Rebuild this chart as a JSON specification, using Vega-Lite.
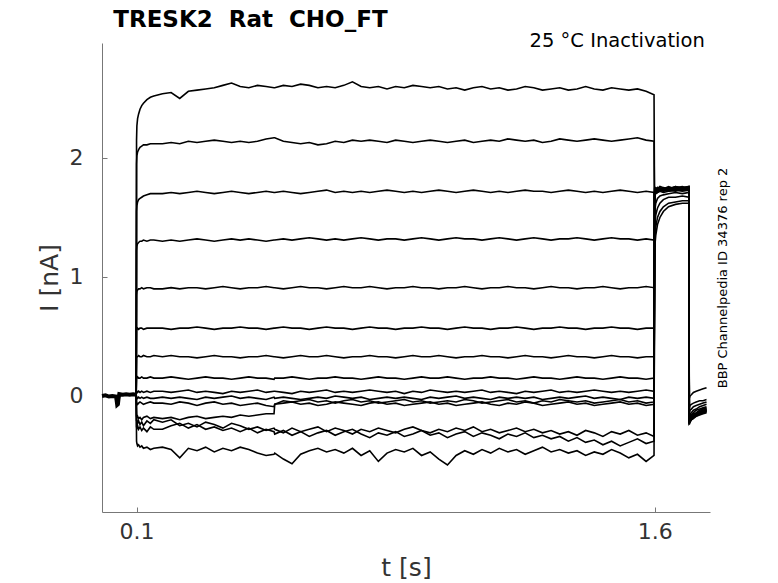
{
  "$schema": "https://vega.github.io/schema/vega-lite/v6.json",
  "description": "TRESK2 Rat CHO_FT inactivation current traces",
  "autosize": {"type": "none"},
  "padding": {"left": 102, "top": 43, "right": 68, "bottom": 71},
  "width": 608,
  "height": 469,
  "background": "white",
  "config": {
    "view": {"stroke": null},
    "axis": {
      "grid": false,
      "domainColor": "#777777", "tickColor": "#777777",
      "labelFont": "DejaVu Sans", "labelColor": "#333333",
      "titleFont": "DejaVu Sans", "titleColor": "#333333", "titleFontWeight": "normal"
    }
  },
  "layer": [
    {
      "data": {"values": [
        {"t": 0, "I": 0.0}, {"t": 0.01, "I": 0.005}, {"t": 0.02, "I": -0.005}, {"t": 0.03, "I": 0.0},
        {"t": 0.04, "I": -0.005}, {"t": 0.042, "I": -0.03}, {"t": 0.044, "I": -0.075}, {"t": 0.046, "I": -0.07},
        {"t": 0.048, "I": -0.02}, {"t": 0.05, "I": 0.015}, {"t": 0.06, "I": 0.01}, {"t": 0.07, "I": 0.015},
        {"t": 0.08, "I": 0.01}, {"t": 0.09, "I": 0.015}, {"t": 0.099, "I": 0.01}
      ]},
      "mark": {"type": "line", "color": "black", "strokeWidth": 4},
      "encoding": {
        "x": {"field": "t", "type": "quantitative", "scale": {"domain": [0, 1.76], "nice": false, "zero": false},
          "axis": {"values": [0.1, 1.6], "format": ".1f", "tickSize": -5, "labelFontSize": 22, "labelPadding": 14, "labelFlush": false,
            "title": "t [s]", "titleFontSize": 25, "titlePadding": 13}},
        "y": {"field": "I", "type": "quantitative", "scale": {"domain": [-0.975, 2.966], "nice": false, "zero": false},
          "axis": {"values": [0, 1, 2], "tickSize": -5, "labelFontSize": 22, "labelPadding": 24,
            "title": "I [nA]", "titleFontSize": 25, "titlePadding": 7}}
      }
    },
    {
      "data": {"values": [
        {"t": 0.099, "a": 0.01, "b": 0.01, "c": 0.01, "d": 0.01, "e": 0.01, "f": 0.01, "g": 0.01, "h": 0.01, "i": 0.01, "j": 0.01, "k": 0.01, "l": 0.01, "m": 0.01, "n": 0.01, "o": 0.01},
        {"t": 0.1, "a": 2.15, "b": 1.95, "c": 1.55, "d": 1.22, "e": 0.85, "f": 0.55, "g": 0.33, "h": 0.15, "i": 0.04, "j": -0.01, "k": -0.06, "l": -0.17, "m": -0.21, "n": -0.26, "o": -0.38},
        {"t": 0.101, "a": 2.27, "b": 2.02, "c": 1.60, "d": 1.26, "e": 0.88, "f": 0.56, "g": 0.33, "h": 0.15, "i": 0.04, "j": -0.01, "k": -0.06, "l": -0.18, "m": -0.20, "n": -0.27, "o": -0.40},
        {"t": 0.103, "a": 2.33, "b": 2.05, "c": 1.63, "d": 1.28, "e": 0.89, "f": 0.57, "g": 0.33, "h": 0.16, "i": 0.03, "j": -0.02, "k": -0.07, "l": -0.17, "m": -0.23, "n": -0.25, "o": -0.42},
        {"t": 0.106, "a": 2.37, "b": 2.07, "c": 1.65, "d": 1.29, "e": 0.90, "f": 0.56, "g": 0.34, "h": 0.15, "i": 0.04, "j": -0.01, "k": -0.06, "l": -0.19, "m": -0.21, "n": -0.28, "o": -0.41},
        {"t": 0.11, "a": 2.41, "b": 2.09, "c": 1.66, "d": 1.30, "e": 0.90, "f": 0.57, "g": 0.33, "h": 0.15, "i": 0.03, "j": -0.02, "k": -0.05, "l": -0.18, "m": -0.24, "n": -0.26, "o": -0.43},
        {"t": 0.115, "a": 2.44, "b": 2.10, "c": 1.67, "d": 1.30, "e": 0.91, "f": 0.57, "g": 0.33, "h": 0.16, "i": 0.04, "j": -0.01, "k": -0.06, "l": -0.20, "m": -0.22, "n": -0.29, "o": -0.42},
        {"t": 0.12, "a": 2.46, "b": 2.11, "c": 1.68, "d": 1.31, "e": 0.90, "f": 0.56, "g": 0.34, "h": 0.15, "i": 0.03, "j": -0.02, "k": -0.07, "l": -0.18, "m": -0.25, "n": -0.27, "o": -0.44},
        {"t": 0.13, "a": 2.49, "b": 2.11, "c": 1.69, "d": 1.30, "e": 0.91, "f": 0.57, "g": 0.33, "h": 0.15, "i": 0.04, "j": -0.01, "k": -0.06, "l": -0.17, "m": -0.21, "n": -0.30, "o": -0.43},
        {"t": 0.14, "a": 2.51, "b": 2.12, "c": 1.70, "d": 1.31, "e": 0.91, "f": 0.57, "g": 0.33, "h": 0.16, "i": 0.03, "j": -0.02, "k": -0.05, "l": -0.19, "m": -0.23, "n": -0.26, "o": -0.45},
        {"t": 0.15, "a": 2.52, "b": 2.12, "c": 1.70, "d": 1.31, "e": 0.90, "f": 0.57, "g": 0.34, "h": 0.15, "i": 0.04, "j": -0.02, "k": -0.06, "l": -0.18, "m": -0.20, "n": -0.28, "o": -0.44},
        {"t": 0.175, "a": 2.54, "b": 2.12, "c": 1.70, "d": 1.30, "e": 0.90, "f": 0.57, "g": 0.33, "h": 0.15, "i": 0.04, "j": -0.01, "k": -0.06, "l": -0.19, "m": -0.22, "n": -0.28, "o": -0.43},
        {"t": 0.2, "a": 2.55, "b": 2.13, "c": 1.71, "d": 1.31, "e": 0.91, "f": 0.56, "g": 0.34, "h": 0.16, "i": 0.03, "j": -0.02, "k": -0.07, "l": -0.18, "m": -0.20, "n": -0.25, "o": -0.45},
        {"t": 0.225, "a": 2.50, "b": 2.12, "c": 1.70, "d": 1.30, "e": 0.90, "f": 0.57, "g": 0.33, "h": 0.15, "i": 0.04, "j": -0.01, "k": -0.05, "l": -0.20, "m": -0.25, "n": -0.23, "o": -0.52},
        {"t": 0.25, "a": 2.56, "b": 2.14, "c": 1.71, "d": 1.31, "e": 0.91, "f": 0.57, "g": 0.33, "h": 0.14, "i": 0.05, "j": -0.02, "k": -0.06, "l": -0.18, "m": -0.23, "n": -0.27, "o": -0.44},
        {"t": 0.275, "a": 2.57, "b": 2.13, "c": 1.72, "d": 1.32, "e": 0.91, "f": 0.58, "g": 0.32, "h": 0.15, "i": 0.03, "j": -0.03, "k": -0.08, "l": -0.17, "m": -0.26, "n": -0.24, "o": -0.46},
        {"t": 0.3, "a": 2.58, "b": 2.14, "c": 1.71, "d": 1.31, "e": 0.90, "f": 0.57, "g": 0.33, "h": 0.16, "i": 0.04, "j": -0.01, "k": -0.06, "l": -0.19, "m": -0.22, "n": -0.28, "o": -0.43},
        {"t": 0.325, "a": 2.59, "b": 2.15, "c": 1.70, "d": 1.30, "e": 0.91, "f": 0.56, "g": 0.34, "h": 0.15, "i": 0.03, "j": -0.02, "k": -0.05, "l": -0.18, "m": -0.24, "n": -0.26, "o": -0.47},
        {"t": 0.35, "a": 2.61, "b": 2.14, "c": 1.71, "d": 1.31, "e": 0.92, "f": 0.57, "g": 0.33, "h": 0.15, "i": 0.02, "j": -0.01, "k": -0.07, "l": -0.17, "m": -0.27, "n": -0.29, "o": -0.44},
        {"t": 0.375, "a": 2.63, "b": 2.13, "c": 1.72, "d": 1.32, "e": 0.91, "f": 0.57, "g": 0.33, "h": 0.14, "i": 0.04, "j": 0.00, "k": -0.06, "l": -0.18, "m": -0.23, "n": -0.27, "o": -0.46},
        {"t": 0.4, "a": 2.60, "b": 2.14, "c": 1.71, "d": 1.31, "e": 0.90, "f": 0.58, "g": 0.32, "h": 0.15, "i": 0.03, "j": -0.02, "k": -0.08, "l": -0.16, "m": -0.25, "n": -0.30, "o": -0.43},
        {"t": 0.425, "a": 2.59, "b": 2.13, "c": 1.70, "d": 1.32, "e": 0.91, "f": 0.57, "g": 0.33, "h": 0.16, "i": 0.04, "j": -0.01, "k": -0.07, "l": -0.17, "m": -0.28, "n": -0.27, "o": -0.45},
        {"t": 0.45, "a": 2.61, "b": 2.14, "c": 1.71, "d": 1.31, "e": 0.91, "f": 0.57, "g": 0.33, "h": 0.15, "i": 0.05, "j": -0.02, "k": -0.06, "l": -0.16, "m": -0.26, "n": -0.31, "o": -0.48},
        {"t": 0.475, "a": 2.60, "b": 2.16, "c": 1.72, "d": 1.30, "e": 0.92, "f": 0.56, "g": 0.34, "h": 0.15, "i": 0.03, "j": -0.03, "k": -0.08, "l": -0.15, "m": -0.29, "n": -0.28, "o": -0.50},
        {"t": 0.498, "a": 2.59, "b": 2.17, "c": 1.71, "d": 1.31, "e": 0.91, "f": 0.57, "g": 0.33, "h": 0.14, "i": 0.04, "j": -0.01, "k": -0.09, "l": -0.15, "m": -0.27, "n": -0.30, "o": -0.49},
        {"t": 0.5, "a": 2.59, "b": 2.17, "c": 1.71, "d": 1.31, "e": 0.91, "f": 0.57, "g": 0.33, "h": 0.15, "i": 0.04, "j": -0.02, "k": -0.07, "l": -0.07, "m": -0.28, "n": -0.32, "o": -0.48},
        {"t": 0.525, "a": 2.61, "b": 2.14, "c": 1.72, "d": 1.32, "e": 0.90, "f": 0.58, "g": 0.32, "h": 0.15, "i": 0.03, "j": -0.01, "k": -0.06, "l": -0.04, "m": -0.31, "n": -0.29, "o": -0.53},
        {"t": 0.55, "a": 2.60, "b": 2.13, "c": 1.71, "d": 1.31, "e": 0.91, "f": 0.57, "g": 0.33, "h": 0.16, "i": 0.02, "j": -0.02, "k": -0.05, "l": -0.05, "m": -0.27, "n": -0.33, "o": -0.57},
        {"t": 0.575, "a": 2.62, "b": 2.12, "c": 1.70, "d": 1.32, "e": 0.92, "f": 0.57, "g": 0.34, "h": 0.15, "i": 0.04, "j": -0.03, "k": -0.07, "l": -0.04, "m": -0.30, "n": -0.30, "o": -0.49},
        {"t": 0.6, "a": 2.61, "b": 2.13, "c": 1.71, "d": 1.33, "e": 0.91, "f": 0.56, "g": 0.33, "h": 0.14, "i": 0.03, "j": -0.02, "k": -0.06, "l": -0.03, "m": -0.28, "n": -0.34, "o": -0.46},
        {"t": 0.625, "a": 2.59, "b": 2.11, "c": 1.72, "d": 1.32, "e": 0.91, "f": 0.57, "g": 0.33, "h": 0.15, "i": 0.04, "j": -0.01, "k": -0.08, "l": -0.05, "m": -0.26, "n": -0.31, "o": -0.44},
        {"t": 0.65, "a": 2.60, "b": 2.12, "c": 1.73, "d": 1.31, "e": 0.90, "f": 0.58, "g": 0.34, "h": 0.15, "i": 0.05, "j": -0.02, "k": -0.07, "l": -0.04, "m": -0.30, "n": -0.29, "o": -0.47},
        {"t": 0.675, "a": 2.59, "b": 2.14, "c": 1.71, "d": 1.32, "e": 0.91, "f": 0.57, "g": 0.33, "h": 0.16, "i": 0.03, "j": 0.00, "k": -0.05, "l": -0.06, "m": -0.27, "n": -0.33, "o": -0.45},
        {"t": 0.7, "a": 2.61, "b": 2.13, "c": 1.72, "d": 1.31, "e": 0.92, "f": 0.57, "g": 0.32, "h": 0.15, "i": 0.04, "j": -0.01, "k": -0.06, "l": -0.04, "m": -0.29, "n": -0.30, "o": -0.48},
        {"t": 0.725, "a": 2.64, "b": 2.15, "c": 1.71, "d": 1.32, "e": 0.91, "f": 0.56, "g": 0.33, "h": 0.15, "i": 0.03, "j": -0.02, "k": -0.07, "l": -0.03, "m": -0.32, "n": -0.28, "o": -0.44},
        {"t": 0.75, "a": 2.60, "b": 2.14, "c": 1.72, "d": 1.33, "e": 0.91, "f": 0.57, "g": 0.33, "h": 0.14, "i": 0.04, "j": -0.01, "k": -0.08, "l": -0.05, "m": -0.28, "n": -0.32, "o": -0.50},
        {"t": 0.775, "a": 2.59, "b": 2.15, "c": 1.71, "d": 1.32, "e": 0.92, "f": 0.58, "g": 0.34, "h": 0.15, "i": 0.05, "j": -0.03, "k": -0.06, "l": -0.04, "m": -0.30, "n": -0.35, "o": -0.46},
        {"t": 0.8, "a": 2.60, "b": 2.14, "c": 1.72, "d": 1.31, "e": 0.91, "f": 0.57, "g": 0.33, "h": 0.16, "i": 0.04, "j": -0.02, "k": -0.05, "l": -0.06, "m": -0.27, "n": -0.31, "o": -0.55},
        {"t": 0.825, "a": 2.58, "b": 2.13, "c": 1.73, "d": 1.32, "e": 0.90, "f": 0.57, "g": 0.33, "h": 0.15, "i": 0.03, "j": -0.01, "k": -0.07, "l": -0.05, "m": -0.29, "n": -0.33, "o": -0.48},
        {"t": 0.85, "a": 2.60, "b": 2.15, "c": 1.72, "d": 1.32, "e": 0.91, "f": 0.56, "g": 0.32, "h": 0.15, "i": 0.04, "j": -0.02, "k": -0.06, "l": -0.04, "m": -0.31, "n": -0.30, "o": -0.45},
        {"t": 0.875, "a": 2.59, "b": 2.14, "c": 1.71, "d": 1.31, "e": 0.91, "f": 0.57, "g": 0.33, "h": 0.14, "i": 0.02, "j": -0.01, "k": -0.08, "l": -0.03, "m": -0.28, "n": -0.34, "o": -0.47},
        {"t": 0.9, "a": 2.61, "b": 2.13, "c": 1.72, "d": 1.32, "e": 0.92, "f": 0.57, "g": 0.34, "h": 0.15, "i": 0.04, "j": -0.02, "k": -0.07, "l": -0.05, "m": -0.26, "n": -0.32, "o": -0.44},
        {"t": 0.925, "a": 2.60, "b": 2.14, "c": 1.71, "d": 1.33, "e": 0.91, "f": 0.58, "g": 0.33, "h": 0.16, "i": 0.03, "j": -0.03, "k": -0.06, "l": -0.04, "m": -0.29, "n": -0.29, "o": -0.50},
        {"t": 0.95, "a": 2.59, "b": 2.15, "c": 1.72, "d": 1.32, "e": 0.91, "f": 0.57, "g": 0.33, "h": 0.15, "i": 0.05, "j": -0.01, "k": -0.05, "l": -0.06, "m": -0.31, "n": -0.33, "o": -0.47},
        {"t": 0.975, "a": 2.60, "b": 2.14, "c": 1.73, "d": 1.31, "e": 0.90, "f": 0.57, "g": 0.34, "h": 0.15, "i": 0.04, "j": -0.02, "k": -0.07, "l": -0.05, "m": -0.28, "n": -0.31, "o": -0.53},
        {"t": 1.0, "a": 2.58, "b": 2.13, "c": 1.72, "d": 1.32, "e": 0.91, "f": 0.56, "g": 0.33, "h": 0.16, "i": 0.03, "j": -0.01, "k": -0.06, "l": -0.04, "m": -0.30, "n": -0.35, "o": -0.58},
        {"t": 1.025, "a": 2.59, "b": 2.14, "c": 1.71, "d": 1.33, "e": 0.91, "f": 0.57, "g": 0.32, "h": 0.15, "i": 0.04, "j": 0.00, "k": -0.08, "l": -0.05, "m": -0.27, "n": -0.32, "o": -0.50},
        {"t": 1.05, "a": 2.57, "b": 2.15, "c": 1.72, "d": 1.32, "e": 0.92, "f": 0.58, "g": 0.33, "h": 0.14, "i": 0.03, "j": -0.02, "k": -0.07, "l": -0.03, "m": -0.29, "n": -0.30, "o": -0.46},
        {"t": 1.075, "a": 2.59, "b": 2.13, "c": 1.73, "d": 1.32, "e": 0.91, "f": 0.57, "g": 0.33, "h": 0.15, "i": 0.04, "j": -0.01, "k": -0.06, "l": -0.04, "m": -0.26, "n": -0.34, "o": -0.49},
        {"t": 1.1, "a": 2.60, "b": 2.14, "c": 1.72, "d": 1.31, "e": 0.90, "f": 0.57, "g": 0.34, "h": 0.15, "i": 0.05, "j": -0.02, "k": -0.05, "l": -0.06, "m": -0.30, "n": -0.31, "o": -0.45},
        {"t": 1.125, "a": 2.58, "b": 2.15, "c": 1.71, "d": 1.32, "e": 0.91, "f": 0.56, "g": 0.33, "h": 0.16, "i": 0.03, "j": -0.03, "k": -0.07, "l": -0.05, "m": -0.28, "n": -0.33, "o": -0.48},
        {"t": 1.15, "a": 2.59, "b": 2.14, "c": 1.72, "d": 1.33, "e": 0.91, "f": 0.57, "g": 0.33, "h": 0.15, "i": 0.04, "j": -0.01, "k": -0.08, "l": -0.04, "m": -0.31, "n": -0.36, "o": -0.44},
        {"t": 1.175, "a": 2.57, "b": 2.16, "c": 1.71, "d": 1.32, "e": 0.92, "f": 0.57, "g": 0.32, "h": 0.15, "i": 0.03, "j": -0.02, "k": -0.06, "l": -0.03, "m": -0.29, "n": -0.32, "o": -0.47},
        {"t": 1.2, "a": 2.58, "b": 2.15, "c": 1.72, "d": 1.31, "e": 0.91, "f": 0.58, "g": 0.33, "h": 0.14, "i": 0.02, "j": -0.01, "k": -0.07, "l": -0.05, "m": -0.27, "n": -0.34, "o": -0.45},
        {"t": 1.225, "a": 2.60, "b": 2.14, "c": 1.73, "d": 1.32, "e": 0.91, "f": 0.57, "g": 0.34, "h": 0.15, "i": 0.04, "j": -0.02, "k": -0.05, "l": -0.04, "m": -0.30, "n": -0.31, "o": -0.49},
        {"t": 1.25, "a": 2.59, "b": 2.15, "c": 1.72, "d": 1.33, "e": 0.90, "f": 0.56, "g": 0.33, "h": 0.16, "i": 0.03, "j": -0.01, "k": -0.06, "l": -0.06, "m": -0.28, "n": -0.35, "o": -0.46},
        {"t": 1.275, "a": 2.57, "b": 2.13, "c": 1.72, "d": 1.32, "e": 0.91, "f": 0.57, "g": 0.33, "h": 0.15, "i": 0.04, "j": -0.03, "k": -0.08, "l": -0.04, "m": -0.31, "n": -0.33, "o": -0.43},
        {"t": 1.3, "a": 2.58, "b": 2.14, "c": 1.71, "d": 1.31, "e": 0.92, "f": 0.57, "g": 0.32, "h": 0.15, "i": 0.05, "j": -0.02, "k": -0.07, "l": -0.05, "m": -0.29, "n": -0.36, "o": -0.47},
        {"t": 1.325, "a": 2.59, "b": 2.16, "c": 1.72, "d": 1.32, "e": 0.91, "f": 0.58, "g": 0.33, "h": 0.14, "i": 0.03, "j": -0.01, "k": -0.06, "l": -0.03, "m": -0.32, "n": -0.34, "o": -0.45},
        {"t": 1.35, "a": 2.57, "b": 2.15, "c": 1.73, "d": 1.32, "e": 0.91, "f": 0.57, "g": 0.34, "h": 0.15, "i": 0.04, "j": -0.02, "k": -0.05, "l": -0.04, "m": -0.30, "n": -0.38, "o": -0.48},
        {"t": 1.375, "a": 2.58, "b": 2.14, "c": 1.72, "d": 1.33, "e": 0.90, "f": 0.57, "g": 0.33, "h": 0.16, "i": 0.03, "j": -0.01, "k": -0.07, "l": -0.05, "m": -0.33, "n": -0.35, "o": -0.46},
        {"t": 1.4, "a": 2.60, "b": 2.15, "c": 1.71, "d": 1.32, "e": 0.91, "f": 0.56, "g": 0.33, "h": 0.15, "i": 0.04, "j": 0.00, "k": -0.06, "l": -0.04, "m": -0.29, "n": -0.39, "o": -0.50},
        {"t": 1.425, "a": 2.58, "b": 2.16, "c": 1.72, "d": 1.31, "e": 0.91, "f": 0.57, "g": 0.32, "h": 0.15, "i": 0.05, "j": -0.02, "k": -0.08, "l": -0.06, "m": -0.31, "n": -0.37, "o": -0.47},
        {"t": 1.45, "a": 2.57, "b": 2.15, "c": 1.71, "d": 1.32, "e": 0.92, "f": 0.57, "g": 0.33, "h": 0.14, "i": 0.04, "j": -0.01, "k": -0.07, "l": -0.05, "m": -0.34, "n": -0.41, "o": -0.49},
        {"t": 1.475, "a": 2.59, "b": 2.14, "c": 1.72, "d": 1.33, "e": 0.91, "f": 0.58, "g": 0.34, "h": 0.15, "i": 0.03, "j": -0.02, "k": -0.06, "l": -0.04, "m": -0.30, "n": -0.38, "o": -0.45},
        {"t": 1.5, "a": 2.58, "b": 2.15, "c": 1.73, "d": 1.32, "e": 0.90, "f": 0.57, "g": 0.33, "h": 0.16, "i": 0.04, "j": -0.03, "k": -0.05, "l": -0.03, "m": -0.32, "n": -0.42, "o": -0.48},
        {"t": 1.525, "a": 2.57, "b": 2.16, "c": 1.72, "d": 1.32, "e": 0.91, "f": 0.57, "g": 0.33, "h": 0.15, "i": 0.03, "j": -0.01, "k": -0.07, "l": -0.05, "m": -0.29, "n": -0.39, "o": -0.52},
        {"t": 1.55, "a": 2.58, "b": 2.17, "c": 1.71, "d": 1.31, "e": 0.91, "f": 0.56, "g": 0.32, "h": 0.15, "i": 0.04, "j": -0.02, "k": -0.06, "l": -0.04, "m": -0.33, "n": -0.36, "o": -0.49},
        {"t": 1.575, "a": 2.56, "b": 2.15, "c": 1.72, "d": 1.32, "e": 0.92, "f": 0.57, "g": 0.33, "h": 0.14, "i": 0.05, "j": -0.01, "k": -0.08, "l": -0.06, "m": -0.31, "n": -0.40, "o": -0.55},
        {"t": 1.598, "a": 2.53, "b": 2.14, "c": 1.71, "d": 1.31, "e": 0.91, "f": 0.57, "g": 0.33, "h": 0.15, "i": 0.04, "j": -0.02, "k": -0.07, "l": -0.05, "m": -0.34, "n": -0.38, "o": -0.50},
        {"t": 1.6, "a": 1.25, "b": 1.32, "c": 1.45, "d": 1.55, "e": 1.68, "f": 1.70, "g": 1.72, "h": 1.73, "i": 1.72, "j": 1.74, "k": 1.73, "l": 1.71, "m": 1.74, "n": 1.72, "o": 1.75},
        {"t": 1.603, "a": 1.35, "b": 1.42, "c": 1.52, "d": 1.62, "e": 1.70, "f": 1.72, "g": 1.73, "h": 1.72, "i": 1.74, "j": 1.73, "k": 1.75, "l": 1.73, "m": 1.72, "n": 1.74, "o": 1.73},
        {"t": 1.608, "a": 1.44, "b": 1.50, "c": 1.58, "d": 1.66, "e": 1.71, "f": 1.71, "g": 1.72, "h": 1.74, "i": 1.73, "j": 1.75, "k": 1.74, "l": 1.72, "m": 1.75, "n": 1.73, "o": 1.74},
        {"t": 1.615, "a": 1.50, "b": 1.55, "c": 1.62, "d": 1.68, "e": 1.72, "f": 1.73, "g": 1.74, "h": 1.73, "i": 1.74, "j": 1.74, "k": 1.72, "l": 1.74, "m": 1.73, "n": 1.75, "o": 1.76},
        {"t": 1.625, "a": 1.55, "b": 1.59, "c": 1.65, "d": 1.69, "e": 1.71, "f": 1.72, "g": 1.73, "h": 1.75, "i": 1.72, "j": 1.73, "k": 1.74, "l": 1.73, "m": 1.74, "n": 1.74, "o": 1.75},
        {"t": 1.64, "a": 1.59, "b": 1.62, "c": 1.67, "d": 1.70, "e": 1.72, "f": 1.73, "g": 1.72, "h": 1.74, "i": 1.75, "j": 1.74, "k": 1.73, "l": 1.75, "m": 1.76, "n": 1.73, "o": 1.74},
        {"t": 1.66, "a": 1.61, "b": 1.63, "c": 1.67, "d": 1.71, "e": 1.73, "f": 1.72, "g": 1.74, "h": 1.73, "i": 1.74, "j": 1.76, "k": 1.75, "l": 1.74, "m": 1.74, "n": 1.75, "o": 1.76},
        {"t": 1.68, "a": 1.62, "b": 1.64, "c": 1.68, "d": 1.70, "e": 1.72, "f": 1.74, "g": 1.73, "h": 1.75, "i": 1.73, "j": 1.74, "k": 1.76, "l": 1.73, "m": 1.75, "n": 1.74, "o": 1.75},
        {"t": 1.699, "a": 1.62, "b": 1.64, "c": 1.67, "d": 1.71, "e": 1.73, "f": 1.73, "g": 1.75, "h": 1.74, "i": 1.75, "j": 1.75, "k": 1.74, "l": 1.74, "m": 1.76, "n": 1.75, "o": 1.76},
        {"t": 1.7, "a": -0.02, "b": -0.10, "c": -0.14, "d": -0.18, "e": -0.20, "f": -0.21, "g": -0.22, "h": -0.22, "i": -0.23, "j": -0.22, "k": -0.23, "l": -0.21, "m": -0.24, "n": -0.23, "o": -0.22},
        {"t": 1.702, "a": 0.00, "b": -0.08, "c": -0.12, "d": -0.16, "e": -0.18, "f": -0.19, "g": -0.20, "h": -0.21, "i": -0.21, "j": -0.20, "k": -0.22, "l": -0.19, "m": -0.22, "n": -0.21, "o": -0.21},
        {"t": 1.706, "a": 0.01, "b": -0.07, "c": -0.11, "d": -0.14, "e": -0.16, "f": -0.17, "g": -0.18, "h": -0.19, "i": -0.19, "j": -0.19, "k": -0.20, "l": -0.18, "m": -0.20, "n": -0.20, "o": -0.19},
        {"t": 1.712, "a": 0.03, "b": -0.06, "c": -0.09, "d": -0.12, "e": -0.14, "f": -0.15, "g": -0.16, "h": -0.17, "i": -0.18, "j": -0.17, "k": -0.18, "l": -0.16, "m": -0.19, "n": -0.18, "o": -0.17},
        {"t": 1.72, "a": 0.04, "b": -0.05, "c": -0.08, "d": -0.11, "e": -0.12, "f": -0.14, "g": -0.15, "h": -0.15, "i": -0.16, "j": -0.16, "k": -0.16, "l": -0.15, "m": -0.17, "n": -0.17, "o": -0.16},
        {"t": 1.73, "a": 0.05, "b": -0.04, "c": -0.07, "d": -0.09, "e": -0.11, "f": -0.12, "g": -0.13, "h": -0.14, "i": -0.15, "j": -0.14, "k": -0.15, "l": -0.13, "m": -0.16, "n": -0.15, "o": -0.15},
        {"t": 1.74, "a": 0.06, "b": -0.04, "c": -0.06, "d": -0.08, "e": -0.10, "f": -0.11, "g": -0.12, "h": -0.13, "i": -0.14, "j": -0.13, "k": -0.14, "l": -0.12, "m": -0.15, "n": -0.14, "o": -0.13},
        {"t": 1.75, "a": 0.07, "b": -0.03, "c": -0.05, "d": -0.07, "e": -0.09, "f": -0.10, "g": -0.11, "h": -0.12, "i": -0.12, "j": -0.13, "k": -0.13, "l": -0.11, "m": -0.14, "n": -0.13, "o": -0.12}
      ]},
      "transform": [
        {"fold": ["a", "b", "c", "d", "e", "f", "g", "h", "i", "j", "k", "l", "m", "n", "o"], "as": ["trace", "I"]}
      ],
      "mark": {"type": "line", "color": "black"},
      "encoding": {
        "x": {"field": "t", "type": "quantitative", "scale": {"domain": [0, 1.76], "nice": false, "zero": false}},
        "y": {"field": "I", "type": "quantitative", "scale": {"domain": [-0.975, 2.966], "nice": false, "zero": false}, "axis": null},
        "detail": {"field": "trace", "type": "nominal"},
        "strokeWidth": {"field": "trace", "type": "nominal", "legend": null,
          "scale": {"domain": ["a", "b", "c", "d", "e", "f", "g", "h", "i", "j", "k", "l", "m", "n", "o"],
            "range": [1.6, 1.6, 1.6, 1.6, 1.6, 1.6, 1.6, 1.6, 1.6, 1.6, 1.6, 1.7, 2, 2, 2]}}
      }
    },
    {
      "data": {"values": [{"label": "TRESK2\u00a0 Rat\u00a0 CHO_FT"}]},
      "mark": {"type": "text", "align": "left", "baseline": "alphabetic", "font": "DejaVu Sans", "fontSize": 23, "fontWeight": "bold", "color": "black"},
      "encoding": {
        "x": {"datum": 0.0325, "type": "quantitative", "scale": {"domain": [0, 1.76], "nice": false, "zero": false}},
        "y": {"datum": 3.1, "type": "quantitative", "scale": {"domain": [-0.975, 2.966], "nice": false, "zero": false}, "axis": null},
        "text": {"field": "label"}
      }
    },
    {
      "data": {"values": [{"label": "25 °C Inactivation"}]},
      "mark": {"type": "text", "align": "right", "baseline": "alphabetic", "font": "DejaVu Sans", "fontSize": 19.5, "color": "black"},
      "encoding": {
        "x": {"datum": 1.745, "type": "quantitative", "scale": {"domain": [0, 1.76], "nice": false, "zero": false}},
        "y": {"datum": 2.93, "type": "quantitative", "scale": {"domain": [-0.975, 2.966], "nice": false, "zero": false},
          "axis": {"orient": "right", "domain": false, "ticks": false, "labels": false,
            "title": "BBP Channelpedia ID 34376 rep 2", "titleAngle": 270, "titleFontSize": 13, "titleColor": "black", "titlePadding": 19}},
        "text": {"field": "label"}
      }
    }
  ],
  "resolve": {"axis": {"y": "independent"}}
}
